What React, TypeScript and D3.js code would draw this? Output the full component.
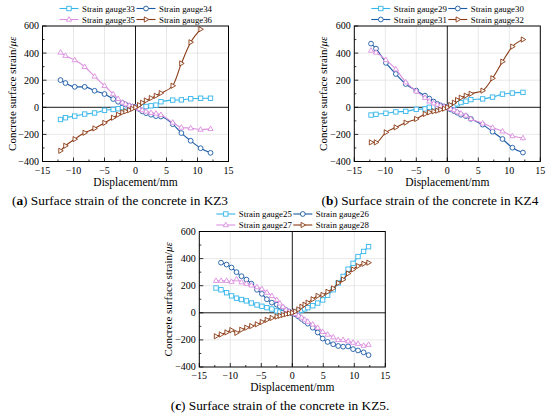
import React from 'react'
import * as d3 from 'd3'

// KZ3 panel
const kz3X = [-12.1, -11.3, -9.8, -8.2, -6.6, -5.0, -3.6, -2.8, -2.1, -1.6, -1.0, -0.5, 0, 0.6, 1.1, 1.7, 2.5, 3.3, 4.1, 6.0, 7.4, 8.9, 10.5, 12.1]
const gauge33 = [-90, -77, -65, -50, -42, -22, -16, -11, -2, 3, 2, 1, 0, 3, 5, 6, 11, 16, 41, 53, 55, 63, 67, 67]
const gauge34 = [201, 179, 151, 151, 122, 98, 61, 41, 31, 20, 10, 4, 0, -13, -30, -43, -55, -65, -68, -124, -190, -247, -302, -336]
const gauge35 = [405, 381, 349, 299, 228, 159, 98, 63, 36, 24, 14, 6, 0, -11, -21, -30, -40, -45, -55, -112, -149, -154, -164, -159]
const gauge36 = [-321, -284, -235, -188, -156, -115, -77, -55, -38, -30, -21, -11, 0, 16, 33, 50, 68, 85, 105, 159, 324, 480, 576, null]

// KZ4 panel
const kz4X = [-12.3, -11.5, -9.9, -8.3, -6.7, -5.0, -3.6, -2.9, -2.2, -1.6, -1.1, -0.5, 0, 0.5, 1.1, 1.6, 2.2, 3.0, 3.8, 5.7, 7.3, 8.9, 10.5, 12.2]
const gauge29 = [-57, -52, -44, -34, -30, -15, -12, 0, 3, 2, 2, 1, 0, 8, 15, 25, 35, 45, 57, 62, 75, 97, 105, 110]
const gauge30 = [470, 433, 328, 246, 172, 123, 86, 64, 42, 25, 14, 6, 0, -15, -28, -40, -55, -65, -85, -128, -180, -234, -298, -334]
const gauge31 = [419, 405, 350, 281, 185, 118, 71, 44, 30, 20, 10, 5, 0, -10, -20, -32, -45, -60, -85, -118, -150, -177, -212, -227]
const gauge32 = [-259, -259, -185, -148, -113, -86, -49, -37, -30, -25, -17, -10, 0, 17, 34, 54, 71, 86, 100, 123, 214, 337, 448, 500]

// KZ5 panel
const kz5X = [-12.3, -11.5, -10.6, -9.8, -9.0, -8.2, -7.4, -6.6, -5.7, -4.9, -4.1, -3.3, -2.5, -2.0, -1.5, -1.0, -0.5, 0, 0.5, 1.0, 1.5, 2.0, 2.5, 3.3, 4.1, 4.9, 5.7, 6.6, 7.4, 8.2, 9.0, 9.8, 10.6, 11.5, 12.3]
const gauge25 = [183, 170, 148, 125, 108, 98, 88, 72, 58, 48, 38, 28, 14, 6, 0, 2, 1, 0, 5, 14, 20, 29, 38, 52, 72, 95, 130, 170, 220, 268, 322, 365, 415, 453, 488]
const gauge26 = [null, 370, 356, 334, 300, 270, 245, 215, 170, 140, 100, 75, 60, 48, 35, 20, 8, 0, -12, -28, -45, -62, -80, -110, -145, -190, -215, -232, -245, -250, -248, -268, -278, -292, -312]
const gauge27 = [237, 237, 237, 230, 248, 226, 215, 203, 190, 175, 150, 125, 95, 70, 45, 22, 10, 0, -8, -20, -35, -50, -65, -85, -110, -140, -160, -180, -200, -200, -210, -220, -228, -242, -235]
const gauge28 = [-173, -160, -145, -128, -148, -125, -110, -98, -85, -68, -52, -38, -28, -22, -16, -10, -5, 0, 10, 25, 45, 60, 75, 100, 125, 132, 155, 180, 220, 245, 290, 320, 345, 362, 370]

const xTicks = [-15, -10, -5, 0, 5, 10, 15]
const yTicks = [-400, -200, 0, 200, 400, 600]

const CYAN = '#35b5ea'
const BLUE = '#1b5aa6'
const PINK = '#db8fdf'
const BROWN = '#8b3a14'
const FONT = '"Liberation Serif", "Times New Roman", serif'

type Marker = 'square' | 'circle' | 'tri' | 'right'
interface Series {
  name: string
  ys: (number | null)[]
  color: string
  marker: Marker
  legendColor?: string
  legendMarker?: Marker
}

function MarkerShape({m, x, y, color}: {m: Marker; x: number; y: number; color: string}) {
  const common = {fill: '#fff', stroke: color, strokeWidth: 0.9}
  if (m === 'square') return <rect x={x - 2.2} y={y - 2.2} width={4.4} height={4.4} {...common} />
  if (m === 'circle') return <circle cx={x} cy={y} r={2.4} {...common} />
  if (m === 'tri')
    return <path d={`M${x},${y - 2.8}L${x + 2.6},${y + 1.7}L${x - 2.6},${y + 1.7}Z`} {...common} />
  return <path d={`M${x + 2.8},${y}L${x - 1.7},${y - 2.6}L${x - 1.7},${y + 2.6}Z`} {...common} />
}

interface PanelProps {
  left: number
  top: number
  xs: number[]
  series: Series[]
  label: string
  caption: string
  captionX: number
}

function Panel({left, top, xs, series, label, caption, captionX}: PanelProps) {
  const w = 186
  const h = 135.5
  const x = d3.scaleLinear().domain([-15, 15]).range([left, left + w])
  const y = d3.scaleLinear().domain([-400, 600]).range([top + h, top])
  const line = d3
    .line<[number, number | null]>()
    .defined(d => d[1] != null)
    .x(d => x(d[0]))
    .y(d => y(d[1] as number))
    .curve(d3.curveMonotoneX)
  const minorX = d3.range(-12.5, 15, 5)
  const minorY = d3.range(-300, 600, 200)
  const fmt = (v: number) => (v < 0 ? '\u2212' + Math.abs(v) : String(v))

  return (
    <g fontFamily={FONT}>
      {/* grid */}
      {xTicks.slice(1, -1).filter(v => v !== 0).map(v => (
        <line key={'gx' + v} x1={x(v)} x2={x(v)} y1={top} y2={top + h} stroke="#e2e2e2" strokeWidth={0.8} />
      ))}
      {yTicks.slice(1, -1).filter(v => v !== 0).map(v => (
        <line key={'gy' + v} x1={left} x2={left + w} y1={y(v)} y2={y(v)} stroke="#e2e2e2" strokeWidth={0.8} />
      ))}
      {/* zero lines */}
      <line x1={x(0)} x2={x(0)} y1={top} y2={top + h} stroke="#000" strokeWidth={0.9} />
      <line x1={left} x2={left + w} y1={y(0)} y2={y(0)} stroke="#000" strokeWidth={0.9} />

      {/* series */}
      {series.map(s => {
        const pts = xs.map((xv, i) => [xv, s.ys[i]] as [number, number | null])
        return (
          <g key={s.name}>
            <path d={line(pts) || ''} fill="none" stroke={s.color} strokeWidth={1.1} />
            {pts
              .filter(p => p[1] != null)
              .map((p, i) => (
                <MarkerShape key={i} m={s.marker} x={x(p[0])} y={y(p[1] as number)} color={s.color} />
              ))}
          </g>
        )
      })}

      {/* frame */}
      <rect x={left} y={top} width={w} height={h} fill="none" stroke="#000" strokeWidth={1} />

      {/* ticks */}
      {xTicks.map(v => (
        <g key={'tx' + v}>
          <line x1={x(v)} x2={x(v)} y1={top + h} y2={top + h - 4} stroke="#000" strokeWidth={0.8} />
          <text x={x(v)} y={top + h + 12} fontSize={10} textAnchor="middle">
            {fmt(v)}
          </text>
        </g>
      ))}
      {minorX.map(v => (
        <line key={'mx' + v} x1={x(v)} x2={x(v)} y1={top + h} y2={top + h - 2} stroke="#000" strokeWidth={0.8} />
      ))}
      {yTicks.map(v => (
        <g key={'ty' + v}>
          <line x1={left} x2={left + 4} y1={y(v)} y2={y(v)} stroke="#000" strokeWidth={0.8} />
          <text x={left - 3.5} y={y(v) + 3.4} fontSize={10} textAnchor="end">
            {fmt(v)}
          </text>
        </g>
      ))}
      {minorY.map(v => (
        <line key={'my' + v} x1={left} x2={left + 2} y1={y(v)} y2={y(v)} stroke="#000" strokeWidth={0.8} />
      ))}

      {/* axis titles */}
      <text x={left + w / 2} y={top + h + 24} fontSize={11.5} textAnchor="middle">
        Displacement/mm
      </text>
      <text
        transform={`translate(${left - 27},${top + h / 2}) rotate(-90)`}
        fontSize={11}
        textAnchor="middle">
        Concrete surface strain/<tspan fontStyle="italic">με</tspan>
      </text>

      {/* legend */}
      {series.map((s, i) => {
        const lx = left + 17 + (i % 2) * 77
        const ly = top - 17.5 + Math.floor(i / 2) * 11
        const c = s.legendColor || s.color
        return (
          <g key={'lg' + s.name}>
            <line x1={lx} x2={lx + 19} y1={ly} y2={ly} stroke={c} strokeWidth={1.1} />
            <MarkerShape m={s.legendMarker || s.marker} x={lx + 9.5} y={ly} color={c} />
            <text x={lx + 22.5} y={ly + 3} fontSize={8.8}>
              {s.name}
            </text>
          </g>
        )
      })}

      {/* caption */}
      <text x={captionX} y={top + h + 43} fontSize={13.3} textAnchor="middle">
        (<tspan fontWeight="bold">{label}</tspan>) {caption}
      </text>
    </g>
  )
}

export default function App() {
  const seriesA: Series[] = [
    {name: 'Strain gauge33', ys: gauge33, color: CYAN, marker: 'square'},
    {name: 'Strain gauge34', ys: gauge34, color: BLUE, marker: 'circle'},
    {name: 'Strain gauge35', ys: gauge35, color: PINK, marker: 'tri'},
    {name: 'Strain gauge36', ys: gauge36, color: BROWN, marker: 'right'},
  ]
  const seriesB: Series[] = [
    {name: 'Strain gauge29', ys: gauge29, color: CYAN, marker: 'square'},
    {name: 'Strain gauge30', ys: gauge30, color: BLUE, marker: 'circle'},
    {name: 'Strain gauge31', ys: gauge31, color: PINK, marker: 'tri', legendColor: BLUE, legendMarker: 'circle'},
    {name: 'Strain gauge32', ys: gauge32, color: BROWN, marker: 'right'},
  ]
  const seriesC: Series[] = [
    {name: 'Strain gauge25', ys: gauge25, color: CYAN, marker: 'square'},
    {name: 'Strain gauge26', ys: gauge26, color: BLUE, marker: 'circle'},
    {name: 'Strain gauge27', ys: gauge27, color: PINK, marker: 'tri'},
    {name: 'Strain gauge28', ys: gauge28, color: BROWN, marker: 'right'},
  ]
  return (
    <svg
      width={550}
      height={418}
      style={{position: 'absolute', left: 0, top: 0, background: '#fff'}}>
      <Panel left={42.5} top={26} xs={kz3X} series={seriesA} label="a" caption="Surface strain of the concrete in KZ3" captionX={120} />
      <Panel left={354.3} top={26} xs={kz4X} series={seriesB} label="b" caption="Surface strain of the concrete in KZ4" captionX={430} />
      <Panel left={199.3} top={231.5} xs={kz5X} series={seriesC} label="c" caption="Surface strain of the concrete in KZ5." captionX={280} />
    </svg>
  )
}
